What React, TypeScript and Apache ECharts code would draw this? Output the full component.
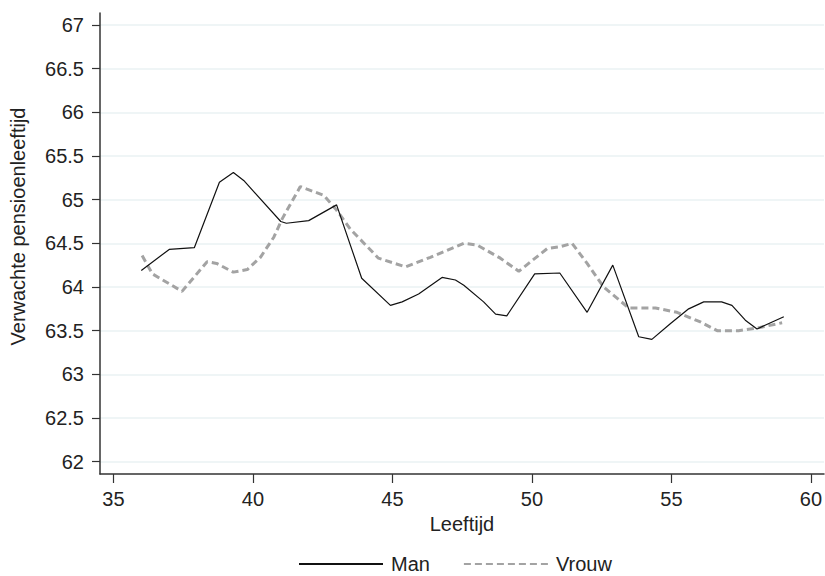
import React, { useEffect, useRef } from "react";
import * as echarts from "echarts";

const xTicks = [35, 40, 45, 50, 55, 60];
const yTicks = [62, 62.5, 63, 63.5, 64, 64.5, 65, 65.5, 66, 66.5, 67];

const manAge = [36.0, 37.0, 37.9, 38.8, 39.3, 39.67, 41.0, 41.2, 42.0, 43.0, 43.9, 44.93, 45.35, 45.94, 46.78, 47.26, 47.56, 48.27, 48.7, 49.1, 50.1, 51.0, 51.98, 52.9, 53.83, 54.3, 54.96, 55.62, 56.16, 56.8, 57.17, 57.65, 58.07, 59.03];
const manValue = [64.19, 64.43, 64.45, 65.2, 65.31, 65.22, 64.75, 64.73, 64.76, 64.94, 64.1, 63.79, 63.83, 63.92, 64.11, 64.08, 64.02, 63.83, 63.69, 63.67, 64.15, 64.16, 63.71, 64.25, 63.43, 63.4, 63.58, 63.75, 63.83, 63.83, 63.79, 63.62, 63.52, 63.66];

const vrouwAge = [36.03, 36.4, 37.46, 38.36, 38.7, 39.3, 39.8, 40.27, 40.75, 41.05, 41.7, 41.94, 42.54, 43.0, 43.5, 44.5, 45.47, 46.36, 47.56, 48.04, 48.87, 49.53, 50.55, 51.0, 51.44, 51.98, 52.57, 53.47, 54.43, 55.2, 56.04, 56.64, 57.41, 58.07, 58.97];
const vrouwValue = [64.36, 64.15, 63.95, 64.29, 64.27, 64.17, 64.2, 64.34, 64.57, 64.78, 65.15, 65.12, 65.05, 64.88, 64.66, 64.33, 64.23, 64.34, 64.5, 64.48, 64.33, 64.18, 64.44, 64.46, 64.5, 64.27, 64.0, 63.76, 63.76, 63.71, 63.6, 63.5, 63.5, 63.53, 63.59];

const FONT = "'Liberation Sans', Arial, sans-serif";
const TEXT = "#222222";

export default function App() {
  const ref = useRef<HTMLDivElement>(null);
  useEffect(() => {
    if (!ref.current) return;
    const chart = echarts.init(ref.current, undefined, { renderer: "svg" });
    const zip = (a: number[], b: number[]) => a.map((v, i) => [v, b[i]]);
    chart.setOption({
      animation: false,
      backgroundColor: "#ffffff",
      textStyle: { fontFamily: FONT },
      grid: { left: 100, right: 1, top: 13, bottom: 102 },
      xAxis: {
        type: "value",
        min: 34.52,
        max: 60.47,
        name: "Leeftijd",
        nameLocation: "middle",
        nameGap: 36,
        nameTextStyle: { fontSize: 20, color: TEXT, fontFamily: FONT },
        axisLine: { show: true, lineStyle: { color: "#333333", width: 1.5 } },
        axisTick: { show: true, length: 9, customValues: xTicks, lineStyle: { color: "#333333", width: 1.2 } },
        axisLabel: { customValues: xTicks, fontSize: 20, color: TEXT, margin: 15, fontFamily: FONT },
        splitLine: { show: false },
      },
      yAxis: {
        type: "value",
        min: 61.859,
        max: 67.137,
        name: "Verwachte pensioenleeftijd",
        nameLocation: "middle",
        nameGap: 72,
        nameTextStyle: { fontSize: 20, color: TEXT, fontFamily: FONT, padding: [0, 0, 0, 34] },
        axisLine: { show: true, lineStyle: { color: "#333333", width: 1.5 } },
        axisTick: { show: true, length: 8, customValues: yTicks, lineStyle: { color: "#333333", width: 1.2 } },
        axisLabel: { customValues: yTicks, fontSize: 20, color: TEXT, margin: 16, fontFamily: FONT },
        splitLine: { show: true, lineStyle: { color: "#eaf2f3", width: 1.5 } },
      },
      legend: {
        left: 298,
        top: 554,
        padding: 0,
        itemWidth: 84,
        itemHeight: 14,
        itemGap: 33,
        itemStyle: { opacity: 0 },
        textStyle: { fontSize: 20, color: TEXT, fontFamily: FONT, padding: [0, 0, 0, 3] },
        data: ["Man", "Vrouw"],
      },
      series: [
        {
          name: "Man",
          type: "line",
          data: zip(manAge, manValue),
          symbol: "none",
          lineStyle: { color: "#111111", width: 1.2 },
          itemStyle: { color: "#111111" },
          z: 3,
        },
        {
          name: "Vrouw",
          type: "line",
          data: zip(vrouwAge, vrouwValue),
          symbol: "none",
          lineStyle: { color: "#a3a3a3", width: 3, type: [7, 4] },
          itemStyle: { color: "#a3a3a3" },
          z: 2,
        },
      ],
    });
    return () => chart.dispose();
  }, []);
  return (
    <div
      ref={ref}
      style={{ position: "fixed", left: 0, top: 0, width: 825, height: 576 }}
    />
  );
}
